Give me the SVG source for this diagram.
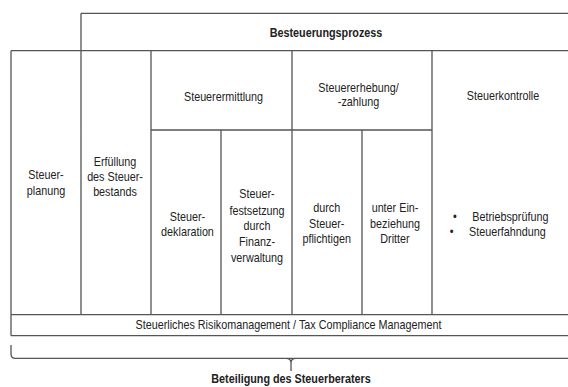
<svg xmlns="http://www.w3.org/2000/svg" width="568" height="387" viewBox="0 0 568 387">
<style>
.l{stroke:#555;stroke-width:1.3;fill:none}
text{font-family:"Liberation Sans",Arial,sans-serif;font-size:13px;fill:#222;text-anchor:middle}
.b{font-weight:bold}
.s{text-anchor:start}
</style>
<rect width="568" height="387" fill="#fff"/>
<g id="connectors">
<path class="l" d="M81,13.3 H570 M81,13.3 V314.7 M11,50.7 H570 M11,50.7 V335.7 M151,50.7 V314.7 M292,50.7 V314.7 M432,50.7 V314.7 M151,130 H432 M221,130 V314.7 M362,130 V314.7 M11,314.7 H570 M11,335.7 H570"/>
<path class="l" d="M11,345 V354 Q11,358.3 15.5,358.3 H570 M286,358.3 Q291,358.3 291,363 V371 M296,358.3 Q291,358.3 291,363"/>
</g>
<g id="besteuerungsprozess"><text class="b" transform="translate(326 0) scale(.83 1)" x="0" y="37.5">Besteuerungsprozess</text></g>
<g id="steuerplanung"><text transform="translate(46 0) scale(.83 1)"><tspan x="0" y="179">Steuer-</tspan><tspan x="0" y="195">planung</tspan></text></g>
<g id="erfuellung"><text transform="translate(115 0) scale(.83 1)"><tspan x="0" y="166">Erfüllung</tspan><tspan x="0" y="181">des Steuer-</tspan><tspan x="0" y="196">bestands</tspan></text></g>
<g id="steuerermittlung"><text transform="translate(223.5 0) scale(.83 1)" x="0" y="101">Steuerermittlung</text></g>
<g id="steuererhebung"><text transform="translate(358.5 0) scale(.83 1)"><tspan x="0" y="92">Steuererhebung/</tspan><tspan x="0" y="106">-zahlung</tspan></text></g>
<g id="steuerkontrolle"><text transform="translate(503 0) scale(.83 1)" x="0" y="100">Steuerkontrolle</text></g>
<g id="steuerdeklaration"><text transform="translate(187.5 0) scale(.83 1)"><tspan x="0" y="221">Steuer-</tspan><tspan x="0" y="236">deklaration</tspan></text></g>
<g id="steuerfestsetzung"><text transform="translate(257 0) scale(.83 1)"><tspan x="0" y="198">Steuer-</tspan><tspan x="0" y="215">festsetzung</tspan><tspan x="0" y="230">durch</tspan><tspan x="0" y="246">Finanz-</tspan><tspan x="0" y="262">verwaltung</tspan></text></g>
<g id="durch-steuerpflichtigen"><text transform="translate(326.7 0) scale(.83 1)"><tspan x="0" y="212">durch</tspan><tspan x="0" y="228">Steuer-</tspan><tspan x="0" y="243">pflichtigen</tspan></text></g>
<g id="unter-einbeziehung"><text transform="translate(395 0) scale(.83 1)"><tspan x="0" y="212">unter Ein-</tspan><tspan x="0" y="228">beziehung</tspan><tspan x="0" y="243">Dritter</tspan></text></g>
<g id="kontrolle-arten">
<text transform="translate(455 0) scale(.83 1)" x="0" y="221">•</text>
<text class="s" transform="translate(472.3 0) scale(.83 1)" x="0" y="221">Betriebsprüfung</text>
<text transform="translate(451.7 0) scale(.83 1)" x="0" y="236">•</text>
<text class="s" transform="translate(469 0) scale(.83 1)" x="0" y="236">Steuerfahndung</text>
</g>
<g id="risikomanagement"><text transform="translate(288.5 0) scale(.83 1)" x="0" y="329.5">Steuerliches Risikomanagement / Tax Compliance Management</text></g>
<g id="beteiligung"><text class="b" transform="translate(291 0) scale(.83 1)" x="0" y="383.5">Beteiligung des Steuerberaters</text></g>
</svg>
